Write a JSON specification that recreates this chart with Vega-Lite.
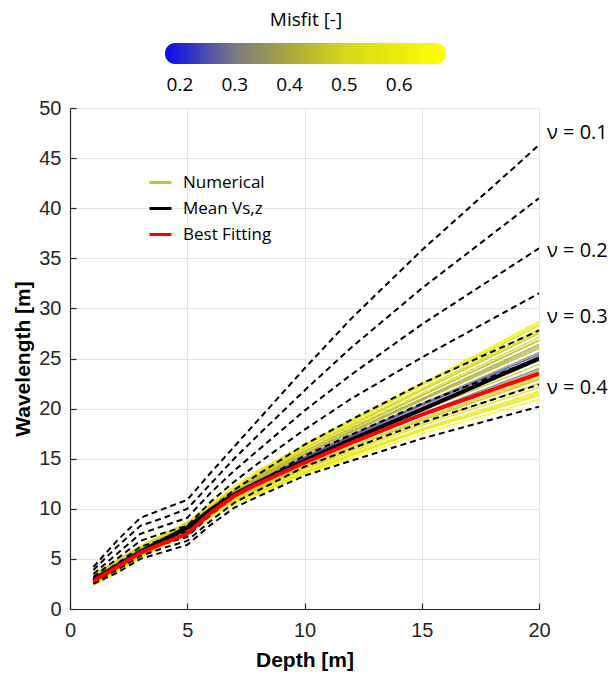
{
"$schema": "https://vega.github.io/schema/vega-lite/v6.json",
"width": 469, "height": 501,
"autosize": {"type": "none"},
"padding": {"left": 70, "top": 108, "right": 77, "bottom": 68},
"background": "white",
"datasets": {
"num": [
{"id":"n1","m":0.62,"d":1,"w":3.0},{"id":"n1","m":0.62,"d":2,"w":4.4},{"id":"n1","m":0.62,"d":3,"w":5.8},{"id":"n1","m":0.62,"d":4,"w":7.0},{"id":"n1","m":0.62,"d":5,"w":8.2},{"id":"n1","m":0.62,"d":6,"w":10.3},{"id":"n1","m":0.62,"d":7,"w":12.1},{"id":"n1","m":0.62,"d":8,"w":13.8},{"id":"n1","m":0.62,"d":10,"w":16.4},{"id":"n1","m":0.62,"d":12,"w":18.9},{"id":"n1","m":0.62,"d":15,"w":22.5},{"id":"n1","m":0.62,"d":20,"w":28.7},
{"id":"n2","m":0.50,"d":1,"w":2.6},{"id":"n2","m":0.50,"d":2,"w":4.0},{"id":"n2","m":0.50,"d":3,"w":5.4},{"id":"n2","m":0.50,"d":4,"w":6.6},{"id":"n2","m":0.50,"d":5,"w":7.8},{"id":"n2","m":0.50,"d":6,"w":9.9},{"id":"n2","m":0.50,"d":7,"w":11.8},{"id":"n2","m":0.50,"d":8,"w":13.7},{"id":"n2","m":0.50,"d":10,"w":16.3},{"id":"n2","m":0.50,"d":12,"w":18.7},{"id":"n2","m":0.50,"d":15,"w":22.3},{"id":"n2","m":0.50,"d":20,"w":28.3},
{"id":"n3","m":0.58,"d":1,"w":3.4},{"id":"n3","m":0.58,"d":2,"w":4.8},{"id":"n3","m":0.58,"d":3,"w":6.2},{"id":"n3","m":0.58,"d":4,"w":7.4},{"id":"n3","m":0.58,"d":5,"w":8.6},{"id":"n3","m":0.58,"d":6,"w":10.5},{"id":"n3","m":0.58,"d":7,"w":12.2},{"id":"n3","m":0.58,"d":8,"w":13.6},{"id":"n3","m":0.58,"d":10,"w":16.1},{"id":"n3","m":0.58,"d":12,"w":18.5},{"id":"n3","m":0.58,"d":15,"w":22.0},{"id":"n3","m":0.58,"d":20,"w":27.9},
{"id":"n4","m":0.46,"d":1,"w":2.8},{"id":"n4","m":0.46,"d":2,"w":4.2},{"id":"n4","m":0.46,"d":3,"w":5.6},{"id":"n4","m":0.46,"d":4,"w":6.8},{"id":"n4","m":0.46,"d":5,"w":8.0},{"id":"n4","m":0.46,"d":6,"w":10.0},{"id":"n4","m":0.46,"d":7,"w":11.8},{"id":"n4","m":0.46,"d":8,"w":13.4},{"id":"n4","m":0.46,"d":10,"w":16.0},{"id":"n4","m":0.46,"d":12,"w":18.3},{"id":"n4","m":0.46,"d":15,"w":21.8},{"id":"n4","m":0.46,"d":20,"w":27.5},
{"id":"n5","m":0.50,"d":1,"w":3.2},{"id":"n5","m":0.50,"d":2,"w":4.6},{"id":"n5","m":0.50,"d":3,"w":6.0},{"id":"n5","m":0.50,"d":4,"w":7.2},{"id":"n5","m":0.50,"d":5,"w":8.4},{"id":"n5","m":0.50,"d":6,"w":10.3},{"id":"n5","m":0.50,"d":7,"w":12.0},{"id":"n5","m":0.50,"d":8,"w":13.3},{"id":"n5","m":0.50,"d":10,"w":15.8},{"id":"n5","m":0.50,"d":12,"w":18.1},{"id":"n5","m":0.50,"d":15,"w":21.5},{"id":"n5","m":0.50,"d":20,"w":27.1},
{"id":"n6","m":0.44,"d":1,"w":2.4},{"id":"n6","m":0.44,"d":2,"w":3.8},{"id":"n6","m":0.44,"d":3,"w":5.2},{"id":"n6","m":0.44,"d":4,"w":6.4},{"id":"n6","m":0.44,"d":5,"w":7.6},{"id":"n6","m":0.44,"d":6,"w":9.6},{"id":"n6","m":0.44,"d":7,"w":11.5},{"id":"n6","m":0.44,"d":8,"w":13.2},{"id":"n6","m":0.44,"d":10,"w":15.7},{"id":"n6","m":0.44,"d":12,"w":18.0},{"id":"n6","m":0.44,"d":15,"w":21.3},{"id":"n6","m":0.44,"d":20,"w":26.8},
{"id":"n7","m":0.40,"d":1,"w":2.9},{"id":"n7","m":0.40,"d":2,"w":4.3},{"id":"n7","m":0.40,"d":3,"w":5.7},{"id":"n7","m":0.40,"d":4,"w":6.9},{"id":"n7","m":0.40,"d":5,"w":8.1},{"id":"n7","m":0.40,"d":6,"w":10.0},{"id":"n7","m":0.40,"d":7,"w":11.7},{"id":"n7","m":0.40,"d":8,"w":13.1},{"id":"n7","m":0.40,"d":10,"w":15.5},{"id":"n7","m":0.40,"d":12,"w":17.8},{"id":"n7","m":0.40,"d":15,"w":21.0},{"id":"n7","m":0.40,"d":20,"w":26.4},
{"id":"n8","m":0.43,"d":1,"w":3.3},{"id":"n8","m":0.43,"d":2,"w":4.7},{"id":"n8","m":0.43,"d":3,"w":6.1},{"id":"n8","m":0.43,"d":4,"w":7.3},{"id":"n8","m":0.43,"d":5,"w":8.5},{"id":"n8","m":0.43,"d":6,"w":10.3},{"id":"n8","m":0.43,"d":7,"w":11.8},{"id":"n8","m":0.43,"d":8,"w":13.0},{"id":"n8","m":0.43,"d":10,"w":15.4},{"id":"n8","m":0.43,"d":12,"w":17.6},{"id":"n8","m":0.43,"d":15,"w":20.8},{"id":"n8","m":0.43,"d":20,"w":26.0},
{"id":"n11","m":0.36,"d":1,"w":2.5},{"id":"n11","m":0.36,"d":2,"w":3.9},{"id":"n11","m":0.36,"d":3,"w":5.3},{"id":"n11","m":0.36,"d":4,"w":6.5},{"id":"n11","m":0.36,"d":5,"w":7.7},{"id":"n11","m":0.36,"d":6,"w":9.6},{"id":"n11","m":0.36,"d":7,"w":11.2},{"id":"n11","m":0.36,"d":8,"w":12.6},{"id":"n11","m":0.36,"d":10,"w":14.9},{"id":"n11","m":0.36,"d":12,"w":17.0},{"id":"n11","m":0.36,"d":15,"w":20.0},{"id":"n11","m":0.36,"d":20,"w":24.8},
{"id":"n12","m":0.47,"d":1,"w":3.4},{"id":"n12","m":0.47,"d":2,"w":4.8},{"id":"n12","m":0.47,"d":3,"w":6.2},{"id":"n12","m":0.47,"d":4,"w":7.4},{"id":"n12","m":0.47,"d":5,"w":8.6},{"id":"n12","m":0.47,"d":6,"w":10.4},{"id":"n12","m":0.47,"d":7,"w":11.6},{"id":"n12","m":0.47,"d":8,"w":12.5},{"id":"n12","m":0.47,"d":10,"w":14.8},{"id":"n12","m":0.47,"d":12,"w":16.8},{"id":"n12","m":0.47,"d":15,"w":19.8},{"id":"n12","m":0.47,"d":20,"w":24.4},
{"id":"n14","m":0.42,"d":1,"w":3.1},{"id":"n14","m":0.42,"d":2,"w":4.5},{"id":"n14","m":0.42,"d":3,"w":5.9},{"id":"n14","m":0.42,"d":4,"w":7.1},{"id":"n14","m":0.42,"d":5,"w":8.3},{"id":"n14","m":0.42,"d":6,"w":10.0},{"id":"n14","m":0.42,"d":7,"w":11.3},{"id":"n14","m":0.42,"d":8,"w":12.2},{"id":"n14","m":0.42,"d":10,"w":14.5},{"id":"n14","m":0.42,"d":12,"w":16.4},{"id":"n14","m":0.42,"d":15,"w":19.3},{"id":"n14","m":0.42,"d":20,"w":23.6},
{"id":"n15","m":0.52,"d":1,"w":2.4},{"id":"n15","m":0.52,"d":2,"w":3.8},{"id":"n15","m":0.52,"d":3,"w":5.2},{"id":"n15","m":0.52,"d":4,"w":6.4},{"id":"n15","m":0.52,"d":5,"w":7.6},{"id":"n15","m":0.52,"d":6,"w":9.3},{"id":"n15","m":0.52,"d":7,"w":10.8},{"id":"n15","m":0.52,"d":8,"w":12.1},{"id":"n15","m":0.52,"d":10,"w":14.3},{"id":"n15","m":0.52,"d":12,"w":16.2},{"id":"n15","m":0.52,"d":15,"w":19.0},{"id":"n15","m":0.52,"d":20,"w":23.2},
{"id":"n16","m":0.45,"d":1,"w":3.0},{"id":"n16","m":0.45,"d":2,"w":4.4},{"id":"n16","m":0.45,"d":3,"w":5.8},{"id":"n16","m":0.45,"d":4,"w":7.0},{"id":"n16","m":0.45,"d":5,"w":8.2},{"id":"n16","m":0.45,"d":6,"w":9.8},{"id":"n16","m":0.45,"d":7,"w":11.1},{"id":"n16","m":0.45,"d":8,"w":12.0},{"id":"n16","m":0.45,"d":10,"w":14.2},{"id":"n16","m":0.45,"d":12,"w":16.1},{"id":"n16","m":0.45,"d":15,"w":18.8},{"id":"n16","m":0.45,"d":20,"w":22.9},
{"id":"n17","m":0.49,"d":1,"w":2.7},{"id":"n17","m":0.49,"d":2,"w":4.1},{"id":"n17","m":0.49,"d":3,"w":5.5},{"id":"n17","m":0.49,"d":4,"w":6.7},{"id":"n17","m":0.49,"d":5,"w":7.9},{"id":"n17","m":0.49,"d":6,"w":9.6},{"id":"n17","m":0.49,"d":7,"w":10.9},{"id":"n17","m":0.49,"d":8,"w":11.9},{"id":"n17","m":0.49,"d":10,"w":14.0},{"id":"n17","m":0.49,"d":12,"w":15.9},{"id":"n17","m":0.49,"d":15,"w":18.5},{"id":"n17","m":0.49,"d":20,"w":22.5},
{"id":"n18","m":0.55,"d":1,"w":3.3},{"id":"n18","m":0.55,"d":2,"w":4.7},{"id":"n18","m":0.55,"d":3,"w":6.1},{"id":"n18","m":0.55,"d":4,"w":7.3},{"id":"n18","m":0.55,"d":5,"w":8.5},{"id":"n18","m":0.55,"d":6,"w":10.1},{"id":"n18","m":0.55,"d":7,"w":11.2},{"id":"n18","m":0.55,"d":8,"w":11.8},{"id":"n18","m":0.55,"d":10,"w":13.9},{"id":"n18","m":0.55,"d":12,"w":15.7},{"id":"n18","m":0.55,"d":15,"w":18.3},{"id":"n18","m":0.55,"d":20,"w":22.1},
{"id":"n19","m":0.60,"d":1,"w":2.5},{"id":"n19","m":0.60,"d":2,"w":3.9},{"id":"n19","m":0.60,"d":3,"w":5.3},{"id":"n19","m":0.60,"d":4,"w":6.5},{"id":"n19","m":0.60,"d":5,"w":7.7},{"id":"n19","m":0.60,"d":6,"w":9.3},{"id":"n19","m":0.60,"d":7,"w":10.6},{"id":"n19","m":0.60,"d":8,"w":11.6},{"id":"n19","m":0.60,"d":10,"w":13.7},{"id":"n19","m":0.60,"d":12,"w":15.5},{"id":"n19","m":0.60,"d":15,"w":18.0},{"id":"n19","m":0.60,"d":20,"w":21.7},
{"id":"n20","m":0.57,"d":1,"w":3.5},{"id":"n20","m":0.57,"d":2,"w":4.9},{"id":"n20","m":0.57,"d":3,"w":6.3},{"id":"n20","m":0.57,"d":4,"w":7.5},{"id":"n20","m":0.57,"d":5,"w":8.7},{"id":"n20","m":0.57,"d":6,"w":10.2},{"id":"n20","m":0.57,"d":7,"w":11.1},{"id":"n20","m":0.57,"d":8,"w":11.5},{"id":"n20","m":0.57,"d":10,"w":13.6},{"id":"n20","m":0.57,"d":12,"w":15.3},{"id":"n20","m":0.57,"d":15,"w":17.8},{"id":"n20","m":0.57,"d":20,"w":21.3},
{"id":"n21","m":0.66,"d":1,"w":2.3},{"id":"n21","m":0.66,"d":2,"w":3.7},{"id":"n21","m":0.66,"d":3,"w":5.1},{"id":"n21","m":0.66,"d":4,"w":6.3},{"id":"n21","m":0.66,"d":5,"w":7.5},{"id":"n21","m":0.66,"d":6,"w":9.1},{"id":"n21","m":0.66,"d":7,"w":10.4},{"id":"n21","m":0.66,"d":8,"w":11.4},{"id":"n21","m":0.66,"d":10,"w":13.4},{"id":"n21","m":0.66,"d":12,"w":15.1},{"id":"n21","m":0.66,"d":15,"w":17.5},{"id":"n21","m":0.66,"d":20,"w":20.9},
{"id":"n22","m":0.63,"d":1,"w":3.2},{"id":"n22","m":0.63,"d":2,"w":4.6},{"id":"n22","m":0.63,"d":3,"w":6.0},{"id":"n22","m":0.63,"d":4,"w":7.2},{"id":"n22","m":0.63,"d":5,"w":8.4},{"id":"n22","m":0.63,"d":6,"w":10.4},{"id":"n22","m":0.63,"d":7,"w":12.2},{"id":"n22","m":0.63,"d":8,"w":13.7},{"id":"n22","m":0.63,"d":10,"w":16.3},{"id":"n22","m":0.63,"d":12,"w":18.8},{"id":"n22","m":0.63,"d":15,"w":22.4},{"id":"n22","m":0.63,"d":20,"w":28.5},
{"id":"n23","m":0.46,"d":1,"w":2.6},{"id":"n23","m":0.46,"d":2,"w":4.0},{"id":"n23","m":0.46,"d":3,"w":5.4},{"id":"n23","m":0.46,"d":4,"w":6.6},{"id":"n23","m":0.46,"d":5,"w":7.8},{"id":"n23","m":0.46,"d":6,"w":9.8},{"id":"n23","m":0.46,"d":7,"w":11.6},{"id":"n23","m":0.46,"d":8,"w":13.2},{"id":"n23","m":0.46,"d":10,"w":15.7},{"id":"n23","m":0.46,"d":12,"w":18.0},{"id":"n23","m":0.46,"d":15,"w":21.3},{"id":"n23","m":0.46,"d":20,"w":26.8},
{"id":"n24","m":0.58,"d":1,"w":2.9},{"id":"n24","m":0.58,"d":2,"w":4.3},{"id":"n24","m":0.58,"d":3,"w":5.7},{"id":"n24","m":0.58,"d":4,"w":6.9},{"id":"n24","m":0.58,"d":5,"w":8.1},{"id":"n24","m":0.58,"d":6,"w":9.7},{"id":"n24","m":0.58,"d":7,"w":10.8},{"id":"n24","m":0.58,"d":8,"w":11.6},{"id":"n24","m":0.58,"d":10,"w":13.6},{"id":"n24","m":0.58,"d":12,"w":15.4},{"id":"n24","m":0.58,"d":15,"w":17.9},{"id":"n24","m":0.58,"d":20,"w":21.5},
{"id":"n27","m":0.50,"d":1,"w":3.3},{"id":"n27","m":0.50,"d":2,"w":4.7},{"id":"n27","m":0.50,"d":3,"w":6.1},{"id":"n27","m":0.50,"d":4,"w":7.3},{"id":"n27","m":0.50,"d":5,"w":8.5},{"id":"n27","m":0.50,"d":6,"w":10.1},{"id":"n27","m":0.50,"d":7,"w":11.3},{"id":"n27","m":0.50,"d":8,"w":12.1},{"id":"n27","m":0.50,"d":10,"w":14.2},{"id":"n27","m":0.50,"d":12,"w":16.1},{"id":"n27","m":0.50,"d":15,"w":18.9},{"id":"n27","m":0.50,"d":20,"w":23.0},
{"id":"n28","m":0.54,"d":1,"w":2.5},{"id":"n28","m":0.54,"d":2,"w":3.9},{"id":"n28","m":0.54,"d":3,"w":5.3},{"id":"n28","m":0.54,"d":4,"w":6.5},{"id":"n28","m":0.54,"d":5,"w":7.7},{"id":"n28","m":0.54,"d":6,"w":9.8},{"id":"n28","m":0.54,"d":7,"w":11.7},{"id":"n28","m":0.54,"d":8,"w":13.5},{"id":"n28","m":0.54,"d":10,"w":16.0},{"id":"n28","m":0.54,"d":12,"w":18.4},{"id":"n28","m":0.54,"d":15,"w":21.9},{"id":"n28","m":0.54,"d":20,"w":27.7},
{"id":"n29","m":0.42,"d":1,"w":3.0},{"id":"n29","m":0.42,"d":2,"w":4.4},{"id":"n29","m":0.42,"d":3,"w":5.8},{"id":"n29","m":0.42,"d":4,"w":7.0},{"id":"n29","m":0.42,"d":5,"w":8.2},{"id":"n29","m":0.42,"d":6,"w":10.1},{"id":"n29","m":0.42,"d":7,"w":11.7},{"id":"n29","m":0.42,"d":8,"w":13.0},{"id":"n29","m":0.42,"d":10,"w":15.4},{"id":"n29","m":0.42,"d":12,"w":17.7},{"id":"n29","m":0.42,"d":15,"w":20.9},{"id":"n29","m":0.42,"d":20,"w":26.2},
{"id":"n30","m":0.38,"d":1,"w":2.7},{"id":"n30","m":0.38,"d":2,"w":4.1},{"id":"n30","m":0.38,"d":3,"w":5.5},{"id":"n30","m":0.38,"d":4,"w":6.7},{"id":"n30","m":0.38,"d":5,"w":7.9},{"id":"n30","m":0.38,"d":6,"w":9.7},{"id":"n30","m":0.38,"d":7,"w":11.1},{"id":"n30","m":0.38,"d":8,"w":12.3},{"id":"n30","m":0.38,"d":10,"w":14.5},{"id":"n30","m":0.38,"d":12,"w":16.5},{"id":"n30","m":0.38,"d":15,"w":19.4},{"id":"n30","m":0.38,"d":20,"w":23.8},
{"id":"n9","m":0.35,"d":1,"w":2.7},{"id":"n9","m":0.35,"d":2,"w":4.1},{"id":"n9","m":0.35,"d":3,"w":5.5},{"id":"n9","m":0.35,"d":4,"w":6.7},{"id":"n9","m":0.35,"d":5,"w":7.9},{"id":"n9","m":0.35,"d":6,"w":9.7},{"id":"n9","m":0.35,"d":7,"w":11.4},{"id":"n9","m":0.35,"d":8,"w":12.8},{"id":"n9","m":0.35,"d":10,"w":15.2},{"id":"n9","m":0.35,"d":12,"w":17.4},{"id":"n9","m":0.35,"d":15,"w":20.5},{"id":"n9","m":0.35,"d":20,"w":25.6},
{"id":"n13","m":0.30,"d":1,"w":2.8},{"id":"n13","m":0.30,"d":2,"w":4.2},{"id":"n13","m":0.30,"d":3,"w":5.6},{"id":"n13","m":0.30,"d":4,"w":6.8},{"id":"n13","m":0.30,"d":5,"w":8.0},{"id":"n13","m":0.30,"d":6,"w":9.8},{"id":"n13","m":0.30,"d":7,"w":11.2},{"id":"n13","m":0.30,"d":8,"w":12.4},{"id":"n13","m":0.30,"d":10,"w":14.6},{"id":"n13","m":0.30,"d":12,"w":16.6},{"id":"n13","m":0.30,"d":15,"w":19.5},{"id":"n13","m":0.30,"d":20,"w":24.0},
{"id":"n10","m":0.28,"d":1,"w":3.1},{"id":"n10","m":0.28,"d":2,"w":4.5},{"id":"n10","m":0.28,"d":3,"w":5.9},{"id":"n10","m":0.28,"d":4,"w":7.1},{"id":"n10","m":0.28,"d":5,"w":8.3},{"id":"n10","m":0.28,"d":6,"w":10.1},{"id":"n10","m":0.28,"d":7,"w":11.6},{"id":"n10","m":0.28,"d":8,"w":12.7},{"id":"n10","m":0.28,"d":10,"w":15.1},{"id":"n10","m":0.28,"d":12,"w":17.2},{"id":"n10","m":0.28,"d":15,"w":20.3},{"id":"n10","m":0.28,"d":20,"w":25.2},
{"id":"n25","m":0.25,"d":1,"w":3.1},{"id":"n25","m":0.25,"d":2,"w":4.5},{"id":"n25","m":0.25,"d":3,"w":5.9},{"id":"n25","m":0.25,"d":4,"w":7.1},{"id":"n25","m":0.25,"d":5,"w":8.3},{"id":"n25","m":0.25,"d":6,"w":10.1},{"id":"n25","m":0.25,"d":7,"w":11.6},{"id":"n25","m":0.25,"d":8,"w":12.8},{"id":"n25","m":0.25,"d":10,"w":15.1},{"id":"n25","m":0.25,"d":12,"w":17.3},{"id":"n25","m":0.25,"d":15,"w":20.4},{"id":"n25","m":0.25,"d":20,"w":25.4},
{"id":"n26","m":0.22,"d":1,"w":2.8},{"id":"n26","m":0.22,"d":2,"w":4.2},{"id":"n26","m":0.22,"d":3,"w":5.6},{"id":"n26","m":0.22,"d":4,"w":6.8},{"id":"n26","m":0.22,"d":5,"w":8.0},{"id":"n26","m":0.22,"d":6,"w":9.8},{"id":"n26","m":0.22,"d":7,"w":11.4},{"id":"n26","m":0.22,"d":8,"w":12.7},{"id":"n26","m":0.22,"d":10,"w":15.0},{"id":"n26","m":0.22,"d":12,"w":17.1},{"id":"n26","m":0.22,"d":15,"w":20.1},{"id":"n26","m":0.22,"d":20,"w":25.0}
],
"nu": [
{"nu":"0.10","d":1,"w":4.2},{"nu":"0.10","d":2,"w":6.8},{"nu":"0.10","d":3,"w":9.1},{"nu":"0.10","d":4,"w":10.0},{"nu":"0.10","d":5,"w":10.9},{"nu":"0.10","d":6,"w":13.6},{"nu":"0.10","d":7,"w":16.2},{"nu":"0.10","d":8,"w":18.8},{"nu":"0.10","d":10,"w":24.0},{"nu":"0.10","d":12,"w":29.0},{"nu":"0.10","d":15,"w":35.8},{"nu":"0.10","d":20,"w":46.3},
{"nu":"0.15","d":1,"w":3.9},{"nu":"0.15","d":2,"w":6.2},{"nu":"0.15","d":3,"w":8.3},{"nu":"0.15","d":4,"w":9.1},{"nu":"0.15","d":5,"w":10.0},{"nu":"0.15","d":6,"w":12.5},{"nu":"0.15","d":7,"w":15.0},{"nu":"0.15","d":8,"w":17.3},{"nu":"0.15","d":10,"w":21.8},{"nu":"0.15","d":12,"w":26.1},{"nu":"0.15","d":15,"w":32.0},{"nu":"0.15","d":20,"w":41.0},
{"nu":"0.20","d":1,"w":3.5},{"nu":"0.20","d":2,"w":5.5},{"nu":"0.20","d":3,"w":7.5},{"nu":"0.20","d":4,"w":8.3},{"nu":"0.20","d":5,"w":9.1},{"nu":"0.20","d":6,"w":11.6},{"nu":"0.20","d":7,"w":13.8},{"nu":"0.20","d":8,"w":15.8},{"nu":"0.20","d":10,"w":19.8},{"nu":"0.20","d":12,"w":23.4},{"nu":"0.20","d":15,"w":28.4},{"nu":"0.20","d":20,"w":36.0},
{"nu":"0.25","d":1,"w":3.2},{"nu":"0.25","d":2,"w":5.0},{"nu":"0.25","d":3,"w":6.8},{"nu":"0.25","d":4,"w":7.6},{"nu":"0.25","d":5,"w":8.3},{"nu":"0.25","d":6,"w":10.7},{"nu":"0.25","d":7,"w":12.7},{"nu":"0.25","d":8,"w":14.5},{"nu":"0.25","d":10,"w":17.9},{"nu":"0.25","d":12,"w":21.0},{"nu":"0.25","d":15,"w":25.1},{"nu":"0.25","d":20,"w":31.5},
{"nu":"0.30","d":1,"w":3.0},{"nu":"0.30","d":2,"w":4.5},{"nu":"0.30","d":3,"w":6.2},{"nu":"0.30","d":4,"w":7.0},{"nu":"0.30","d":5,"w":7.7},{"nu":"0.30","d":6,"w":9.9},{"nu":"0.30","d":7,"w":11.9},{"nu":"0.30","d":8,"w":13.4},{"nu":"0.30","d":10,"w":16.4},{"nu":"0.30","d":12,"w":18.9},{"nu":"0.30","d":15,"w":22.5},{"nu":"0.30","d":20,"w":27.8},
{"nu":"0.35","d":1,"w":2.8},{"nu":"0.35","d":2,"w":4.2},{"nu":"0.35","d":3,"w":5.8},{"nu":"0.35","d":4,"w":6.5},{"nu":"0.35","d":5,"w":7.2},{"nu":"0.35","d":6,"w":9.4},{"nu":"0.35","d":7,"w":11.2},{"nu":"0.35","d":8,"w":12.6},{"nu":"0.35","d":10,"w":15.3},{"nu":"0.35","d":12,"w":17.4},{"nu":"0.35","d":15,"w":20.5},{"nu":"0.35","d":20,"w":25.0},
{"nu":"0.40","d":1,"w":2.6},{"nu":"0.40","d":2,"w":3.9},{"nu":"0.40","d":3,"w":5.3},{"nu":"0.40","d":4,"w":6.1},{"nu":"0.40","d":5,"w":6.8},{"nu":"0.40","d":6,"w":8.8},{"nu":"0.40","d":7,"w":10.6},{"nu":"0.40","d":8,"w":11.8},{"nu":"0.40","d":10,"w":14.2},{"nu":"0.40","d":12,"w":16.0},{"nu":"0.40","d":15,"w":18.6},{"nu":"0.40","d":20,"w":22.4},
{"nu":"0.45","d":1,"w":2.5},{"nu":"0.45","d":2,"w":3.6},{"nu":"0.45","d":3,"w":5.0},{"nu":"0.45","d":4,"w":5.7},{"nu":"0.45","d":5,"w":6.4},{"nu":"0.45","d":6,"w":8.4},{"nu":"0.45","d":7,"w":10.1},{"nu":"0.45","d":8,"w":11.2},{"nu":"0.45","d":10,"w":13.3},{"nu":"0.45","d":12,"w":14.8},{"nu":"0.45","d":15,"w":17.0},{"nu":"0.45","d":20,"w":20.2}
],
"fit": [
{"s":"Mean Vs,z","d":1,"w":2.9},{"s":"Mean Vs,z","d":2,"w":4.3},{"s":"Mean Vs,z","d":3,"w":5.7},{"s":"Mean Vs,z","d":4,"w":6.9},{"s":"Mean Vs,z","d":5,"w":8.1},{"s":"Mean Vs,z","d":6,"w":9.9},{"s":"Mean Vs,z","d":7,"w":11.4},{"s":"Mean Vs,z","d":8,"w":12.6},{"s":"Mean Vs,z","d":10,"w":14.8},{"s":"Mean Vs,z","d":12,"w":16.9},{"s":"Mean Vs,z","d":15,"w":19.9},{"s":"Mean Vs,z","d":20,"w":25.0},
{"s":"Best Fitting","d":1,"w":2.8},{"s":"Best Fitting","d":2,"w":4.2},{"s":"Best Fitting","d":3,"w":5.6},{"s":"Best Fitting","d":4,"w":6.6},{"s":"Best Fitting","d":5,"w":7.5},{"s":"Best Fitting","d":6,"w":9.6},{"s":"Best Fitting","d":7,"w":11.3},{"s":"Best Fitting","d":8,"w":12.5},{"s":"Best Fitting","d":10,"w":14.6},{"s":"Best Fitting","d":12,"w":16.6},{"s":"Best Fitting","d":15,"w":19.4},{"s":"Best Fitting","d":20,"w":23.5}
],
"lab": [
{"t":"ν = 0.1","d":20,"w":47.5},{"t":"ν = 0.2","d":20,"w":35.7},{"t":"ν = 0.3","d":20,"w":29.1},{"t":"ν = 0.4","d":20,"w":22.1}
]
},
"layer": [
{
"data": {"name": "num"},
"mark": {"type": "line", "strokeWidth": 1.5, "strokeOpacity": 0.85, "clip": true},
"encoding": {
"x": {"field": "d", "type": "quantitative", "scale": {"domain": [0, 20], "nice": false},
 "axis": {"title": "Depth [m]", "values": [0, 5, 10, 15, 20], "labelFlush": false, "labelPadding": 17, "titlePadding": 9}},
"y": {"field": "w", "type": "quantitative", "scale": {"domain": [0, 50], "nice": false},
 "axis": {"title": "Wavelength [m]", "values": [0, 5, 10, 15, 20, 25, 30, 35, 40, 45, 50], "labelFlush": false, "labelPadding": 15, "titlePadding": 5}},
"detail": {"field": "id"},
"color": {"field": "m", "type": "quantitative",
 "scale": {"domain": [0.1727, 0.3, 0.4, 0.5, 0.6855], "range": ["#0a0aee", "#7a7a82", "#a8a83e", "#d6d61a", "#ffff00"], "interpolate": "rgb"},
 "legend": {"title": "Misfit [-]", "orient": "none", "legendX": 95, "legendY": -97, "direction": "horizontal",
  "gradientLength": 281, "gradientThickness": 21, "gradientStrokeWidth": 0,
  "values": [0.2, 0.3, 0.4, 0.5, 0.6], "format": ".1f", "labelOverlap": false,
  "titleAnchor": "middle", "titleFont": "Open Sans", "titleFontSize": 19, "titleFontWeight": "normal", "titleColor": "#000000", "titlePadding": 13,
  "labelFont": "Open Sans", "labelFontSize": 19, "labelColor": "#000000", "labelOffset": 12, "padding": 0,
  "encode": {"gradient": {"enter": {"cornerRadius": {"value": 10}}, "update": {"cornerRadius": {"value": 10}, "opacity": {"value": 1}}}}}}
}
},
{
"data": {"name": "nu"},
"mark": {"type": "line", "strokeWidth": 2, "strokeDash": [6, 4], "color": "#000000", "clip": true},
"encoding": {
"x": {"field": "d", "type": "quantitative"},
"y": {"field": "w", "type": "quantitative"},
"detail": {"field": "nu"}
}
},
{
"data": {"name": "fit"},
"mark": {"type": "line", "strokeWidth": 4, "clip": true},
"encoding": {
"x": {"field": "d", "type": "quantitative"},
"y": {"field": "w", "type": "quantitative"},
"stroke": {"field": "s", "type": "nominal",
 "scale": {"domain": ["Numerical", "Mean Vs,z", "Best Fitting"], "range": ["#c4c43c", "#000000", "#ff0000"]},
 "legend": {"title": null, "orient": "none", "legendX": 78, "legendY": 62, "symbolType": "stroke", "symbolSize": 484, "symbolStrokeWidth": 3,
  "labelFont": "Open Sans", "labelFontSize": 17, "labelColor": "#000000", "labelOffset": 10, "rowPadding": 5, "padding": 0}},
"order": {"field": "s", "sort": "descending"}
}
},
{
"data": {"name": "lab"},
"mark": {"type": "text", "align": "left", "baseline": "middle", "dx": 8, "font": "Open Sans", "fontSize": 20, "color": "#000000", "clip": false},
"encoding": {
"x": {"field": "d", "type": "quantitative"},
"y": {"field": "w", "type": "quantitative"},
"text": {"field": "t"}
}
}
],
"config": {
"view": {"stroke": null},
"axis": {
"grid": true, "gridColor": "#e4e4e4", "gridWidth": 1,
"domainColor": "#262626", "domainWidth": 1.2,
"ticks": true, "tickColor": "#262626", "tickSize": -6, "tickWidth": 1.2,
"labelFont": "Liberation Sans", "labelFontSize": 20, "labelColor": "#262626",
"titleFont": "Liberation Sans", "titleFontSize": 21, "titleFontWeight": "bold", "titleColor": "#000000"
},
"legend": {"gradientHorizontalMaxLength": 400}
}
}
